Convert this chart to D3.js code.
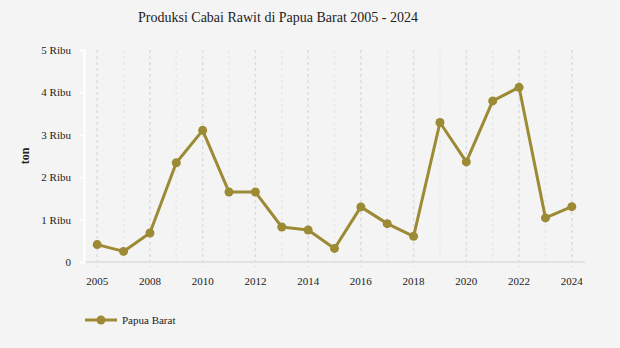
<!DOCTYPE html>
<html>
<head>
<meta charset="utf-8">
<script src="https://cdn.jsdelivr.net/npm/d3@7"></script>
<style>
  body { margin: 0; background: #f4f4f4; }
  svg, svg text { font-family: "Liberation Serif", "Times New Roman", serif; }
</style>
</head>
<body>
<svg id="chart" width="620" height="348"></svg>
<script>
// data
const years = ["2005", "2007", "2008", "2009", "2010", "2011", "2012", "2013", "2014", "2015",
  "2016", "2017", "2018", "2019", "2020", "2021", "2022", "2023", "2024"]
const produksi = [410, 250, 685, 2340, 3105, 1650, 1650, 825, 755, 320,
  1300, 905, 605, 3290, 2360, 3800, 4120, 1040, 1305]
const yTicks = [0, 1000, 2000, 3000, 4000, 5000]
const seriesName = "Papua Barat"

const width = 620
const height = 348
const margin = { top: 50, right: 35, bottom: 86, left: 84 }
const color = "#9d8a35"

const svg = d3.select("#chart")

svg.append("rect")
  .attr("width", width)
  .attr("height", height)
  .attr("fill", "#f4f4f4")

const x = d3.scaleBand()
  .domain(years)
  .range([margin.left, width - margin.right])
  .padding(0)

const y = d3.scaleLinear()
  .domain([0, 5000])
  .range([height - margin.bottom, margin.top])

const cx = d => x(d) + x.bandwidth() / 2

// vertical dashed grid
svg.append("g")
  .selectAll("line")
  .data(years)
  .join("line")
  .attr("x1", cx)
  .attr("x2", cx)
  .attr("y1", y(5000))
  .attr("y2", y(0) + 5)
  .attr("stroke", (d, i) => i % 2 === 0 ? "#dcdcdc" : "#e9e9e9")
  .attr("stroke-width", 1.5)
  .attr("stroke-dasharray", "3,3")

// baseline
svg.append("line")
  .attr("x1", margin.left)
  .attr("x2", width - margin.right)
  .attr("y1", y(0))
  .attr("y2", y(0))
  .attr("stroke", "#e2e2e2")
  .attr("stroke-width", 2)

// x axis labels
const xAxis = d3.axisBottom(x)
  .tickSize(0)
  .tickPadding(15)
  .tickFormat((d, i) => i % 2 === 0 ? d : "")

svg.append("g")
  .attr("transform", `translate(0,${y(0)})`)
  .call(xAxis)
  .attr("font-family", null)
  .attr("font-size", 11)
  .call(g => g.select(".domain").remove())
  .call(g => g.selectAll("text").attr("fill", "#222"))

// y axis
const yAxis = d3.axisLeft(y)
  .tickValues(yTicks)
  .tickSize(4)
  .tickPadding(9)
  .tickFormat(d => d === 0 ? "0" : (d / 1000) + " Ribu")

svg.append("g")
  .attr("transform", `translate(${margin.left},0)`)
  .call(yAxis)
  .attr("font-family", null)
  .attr("font-size", 11)
  .call(g => g.select(".domain").attr("stroke", "#ffffff").attr("stroke-width", 2))
  .call(g => g.selectAll(".tick line").attr("stroke", "#ffffff").attr("stroke-width", 1.5))
  .call(g => g.selectAll("text").attr("fill", "#222"))

// y axis title
svg.append("text")
  .attr("transform", `translate(29,${(y(0) + y(5000)) / 2}) rotate(-90)`)
  .attr("text-anchor", "middle")
  .attr("font-size", 12)
  .attr("font-weight", "bold")
  .attr("fill", "#222")
  .text("ton")

// title
svg.append("text")
  .attr("x", 278)
  .attr("y", 22)
  .attr("text-anchor", "middle")
  .attr("font-size", 14)
  .attr("fill", "#222")
  .text("Produksi Cabai Rawit di Papua Barat 2005 - 2024")

// line
const line = d3.line()
  .x((d, i) => cx(years[i]))
  .y(d => y(d))

svg.append("path")
  .datum(produksi)
  .attr("fill", "none")
  .attr("stroke", color)
  .attr("stroke-width", 3)
  .attr("stroke-linejoin", "round")
  .attr("d", line)

svg.append("g")
  .selectAll("circle")
  .data(produksi)
  .join("circle")
  .attr("cx", (d, i) => cx(years[i]))
  .attr("cy", d => y(d))
  .attr("r", 4.5)
  .attr("fill", color)

// legend
const legend = svg.append("g").attr("transform", "translate(85,320)")
legend.append("line")
  .attr("x1", 0).attr("x2", 32)
  .attr("stroke", color)
  .attr("stroke-width", 3)
legend.append("circle")
  .attr("cx", 16)
  .attr("r", 4.5)
  .attr("fill", color)
legend.append("text")
  .attr("x", 37)
  .attr("dy", "0.35em")
  .attr("font-size", 11)
  .attr("fill", "#222")
  .text(seriesName)
</script>
</body>
</html>
